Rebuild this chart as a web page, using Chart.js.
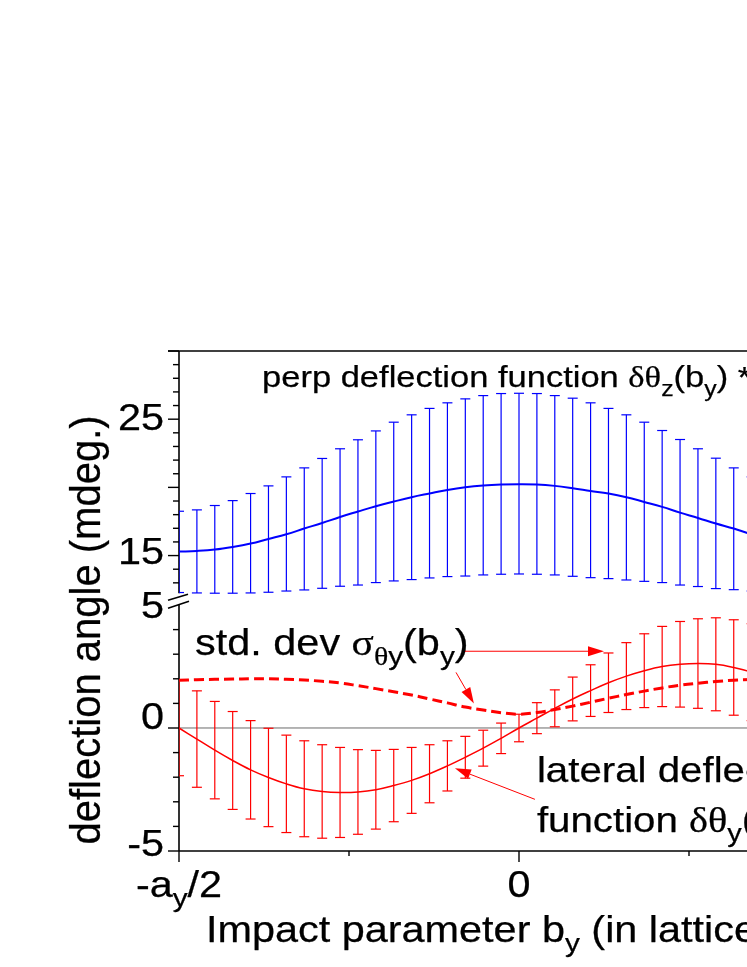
<!DOCTYPE html>
<html>
<head>
<meta charset="utf-8">
<script src="https://cdn.jsdelivr.net/npm/chart.js@4.4.1/dist/chart.umd.min.js"></script>
<style>
html,body{margin:0;padding:0;background:#fff;overflow:hidden;width:747px;height:967px;}
#wrap{position:absolute;left:0;top:0;width:900px;height:967px;}
</style>
</head>
<body>
<div id="wrap"><canvas id="c" width="900" height="967"></canvas></div>
<script>
// Impact parameter positions, in steps of a_y/38 (from -a_y/2 to +a_y/2)
const bPos = [-19,-18,-17,-16,-15,-14,-13,-12,-11,-10,-9,-8,-7,-6,-5,-4,-3,-2,-1,0,1,2,3,4,5,6,7,8,9,10,11,12,13,14,15,16,17,18,19];

// perp deflection function (mdeg) and its error-bar limits
const perpMean = [15.29,15.34,15.44,15.63,15.88,16.22,16.56,16.98,17.39,17.83,18.23,18.62,18.96,19.28,19.55,19.81,20.01,20.14,20.21,20.23,20.21,20.11,19.94,19.74,19.55,19.28,18.93,18.57,18.15,17.76,17.35,16.98,16.56,16.22,15.88,15.63,15.44,15.34,15.29];
const perpHigh = [18.25,18.35,18.67,19.03,19.55,20.11,20.77,21.43,22.12,22.83,23.49,24.14,24.78,25.32,25.79,26.20,26.49,26.73,26.88,26.90,26.88,26.73,26.54,26.20,25.79,25.32,24.78,24.17,23.51,22.83,22.14,21.43,20.77,20.11,19.55,19.03,18.67,18.35,18.25];
const perpLow  = [12.29,12.26,12.24,12.24,12.26,12.31,12.40,12.48,12.60,12.75,12.84,13.02,13.14,13.24,13.36,13.46,13.50,13.58,13.63,13.65,13.63,13.58,13.48,13.38,13.31,13.21,13.11,13.02,12.84,12.73,12.58,12.50,12.40,12.31,12.26,12.24,12.24,12.26,12.29];

// lateral deflection function (mdeg) and its std. dev
const latMean = [0,-0.45,-0.90,-1.32,-1.70,-2.01,-2.27,-2.47,-2.58,-2.62,-2.60,-2.51,-2.34,-2.13,-1.86,-1.54,-1.19,-0.82,-0.42,0,0.40,0.80,1.18,1.52,1.84,2.11,2.33,2.50,2.59,2.62,2.59,2.46,2.27,2.01,1.70,1.32,0.90,0.45,0];
const sigmaY  = [1.94,1.96,1.98,1.99,2.00,2.00,1.98,1.95,1.90,1.83,1.72,1.60,1.47,1.34,1.18,1.02,0.85,0.73,0.62,0.56,0.63,0.75,0.89,1.05,1.21,1.36,1.50,1.63,1.74,1.82,1.89,1.94,1.97,1.99,2.00,2.00,1.99,1.97,1.94];

// ticks and tick labels
const xTickVals = [-19,-9.5,0,9.5,19];
const xTickText = {"-19":[["-a"],["y","s"],["/2"]], "0":[["0"]], "19":[["a"],["y","s"],["/2"]]};
const yTopTicks = [13,14,15,16,17,18,19,20,21,22,23,24,25,26,27,28,29,30];
const yTopLabels = [15,25];
const yBotTicks = [-5,-4,-3,-2,-1,0,1,2,3,4];
const yBotLabels = [-5,0,5];

// styling: small vertical nudges of the y tick labels (px), as placed in the original
const yLabelNudge = {"25":-2, "15":-4, "5":0, "0":-12, "-5":-8};

// text annotations (data coordinates)
const notes = [
  {axis:"yTop", x:-14.36, y:27.35, size:30, segs:[["perp deflection function "],["δθ","g"],["z","s"],["(b"],["y","s"],[") *"]]},
  {axis:"yBot", x:-18.1, y:2.96, size:36, segs:[["std. dev "],["σ","g"],["θ","gs"],["y","s"],["(b"],["y","s"],[")"]]},
  {axis:"yBot", x:1.0, y:-2.20, size:35, segs:[["lateral deflection"]]},
  {axis:"yBot", x:1.0, y:-4.24, size:35, segs:[["function "],["δθ","g"],["y","s"],["(b"],["y","s"],[")"]]}
];
const arrows = [
  {from:[-3.02,3.12], to:[4.75,3.12]},
  {from:[-3.52,2.26], to:[-2.52,1.0]},
  {from:[0.89,-2.90], to:[-3.58,-1.64]}
];

const SANS = '"Liberation Sans", Arial, Helvetica, sans-serif';
const SERIF = '"Liberation Serif", "Times New Roman", serif';
const SX = 1.15;
const TEXT_STROKE = 0.25;

function richText(ctx, segs, x, y, size, align, sx) {
  ctx.save();
  const parts = segs.map(([t, m]) => {
    const sub = !!m && m.indexOf("s") >= 0;
    const gr = !!m && m.indexOf("g") >= 0;
    const fs = sub ? size * 0.72 : size;
    const font = fs + "px " + (gr ? SERIF : SANS);
    ctx.font = font;
    return {t, font, w: ctx.measureText(t).width, dy: sub ? size * 0.28 : 0};
  });
  const total = parts.reduce((a, p) => a + p.w, 0);
  let cx = align === "center" ? -total / 2 : (align === "right" ? -total : 0);
  ctx.translate(x, y);
  ctx.scale(sx, 1);
  ctx.textAlign = "left";
  ctx.textBaseline = "alphabetic";
  ctx.fillStyle = "#000";
  ctx.strokeStyle = "#000";
  ctx.lineWidth = TEXT_STROKE;
  ctx.lineJoin = "round";
  for (const p of parts) { ctx.font = p.font; ctx.fillText(p.t, cx, p.dy); ctx.strokeText(p.t, cx, p.dy); cx += p.w; }
  ctx.restore();
}

function line(ctx, x1, y1, x2, y2) { ctx.beginPath(); ctx.moveTo(x1, y1); ctx.lineTo(x2, y2); ctx.stroke(); }

const decor = {
  id: "decor",
  beforeDatasetsDraw(chart) {
    const ctx = chart.ctx, xs = chart.scales.x, yt = chart.scales.yTop, yb = chart.scales.yBot;
    const L = xs.left, R = xs.right;
    ctx.save();
    // zero line
    ctx.strokeStyle = "#6a6a6a"; ctx.lineWidth = 1;
    line(ctx, L, yb.getPixelForValue(0), R, yb.getPixelForValue(0));
    // frame
    ctx.strokeStyle = "#000"; ctx.lineWidth = 1.6; ctx.lineCap = "butt";
    line(ctx, L - 11, yt.top, R, yt.top);            // top border (with tick at 30)
    line(ctx, L, yt.top, L, yt.bottom - 4);          // left axis, upper panel
    const y5 = yb.getPixelForValue(5);
    line(ctx, L, y5, L, yb.bottom);                  // left axis, lower panel
    line(ctx, L, yb.bottom, R, yb.bottom);           // x axis
    line(ctx, R, yt.top, R, yt.bottom - 4);
    line(ctx, R, y5, R, yb.bottom);
    // y ticks
    ctx.lineWidth = 1.4;
    for (const v of yTopTicks) { const p = yt.getPixelForValue(v); line(ctx, L - (v % 5 === 0 ? 11 : 6), p, L, p); }
    for (const v of yBotTicks) { const p = yb.getPixelForValue(v); line(ctx, L - (v % 5 === 0 ? 11 : 6), p, L, p); }
    // x ticks
    for (const v of xTickVals) { const p = xs.getPixelForValue(v); const major = (v % 19 === 0 || v === 0); line(ctx, p, yb.bottom, p, yb.bottom + (major ? 11 : 5)); }
    // axis-break marks
    ctx.lineWidth = 1.6;
    const yb0 = yt.bottom;
    line(ctx, L - 11, yb0 + 3, L + 9, yb0 - 3);
    line(ctx, L - 11, yb0 + 11, L + 10, yb0 + 4);
    // error bars
    ctx.save();
    ctx.beginPath(); ctx.rect(L, chart.chartArea.top, R - L, chart.chartArea.bottom - chart.chartArea.top); ctx.clip();
    ctx.lineWidth = 1.2;
    const cap = 5;
    ctx.strokeStyle = "#0000ff";
    bPos.forEach((b, i) => {
      const px = xs.getPixelForValue(b), hi = yt.getPixelForValue(perpHigh[i]), lo = yt.getPixelForValue(perpLow[i]);
      line(ctx, px, hi, px, lo); line(ctx, px - cap, hi, px + cap, hi); line(ctx, px - cap, lo, px + cap, lo);
    });
    ctx.strokeStyle = "#ff0000";
    bPos.forEach((b, i) => {
      const px = xs.getPixelForValue(b), hi = yb.getPixelForValue(latMean[i] + sigmaY[i]), lo = yb.getPixelForValue(latMean[i] - sigmaY[i]);
      line(ctx, px, hi, px, lo); line(ctx, px - cap, hi, px + cap, hi); line(ctx, px - cap, lo, px + cap, lo);
    });
    ctx.restore();
    ctx.restore();
  },
  afterDatasetsDraw(chart) {
    const ctx = chart.ctx, xs = chart.scales.x, yt = chart.scales.yTop, yb = chart.scales.yBot;
    const L = xs.left;
    const half = 36 * 0.716 / 2;
    ctx.save();
    // y tick labels
    for (const v of yTopLabels) richText(ctx, [[String(v)]], L - 15, yt.getPixelForValue(v) + half + (yLabelNudge[String(v)] || 0), 36, "right", SX);
    for (const v of yBotLabels) richText(ctx, [[String(v)]], L - 15, yb.getPixelForValue(v) + half + (yLabelNudge[String(v)] || 0), 36, "right", SX);
    // x tick labels
    for (const v of xTickVals) { const t = xTickText[String(v)]; if (t) richText(ctx, t, xs.getPixelForValue(v), yb.bottom + 46, 36, "center", SX); }
    // axis titles
    richText(ctx, [["Impact parameter b"],["y","s"],[" (in lattice units)"]], L + 27, yb.bottom + 91, 36, "left", SX);
    ctx.save();
    ctx.translate(100, (yt.top + yb.bottom) / 2 + 29);
    ctx.rotate(-Math.PI / 2);
    ctx.scale(1, 1.05);
    ctx.font = "40px " + SANS; ctx.fillStyle = "#000"; ctx.strokeStyle = "#000"; ctx.lineWidth = TEXT_STROKE;
    ctx.textAlign = "center"; ctx.textBaseline = "alphabetic";
    ctx.fillText("deflection angle (mdeg.)", 0, 0);
    ctx.strokeText("deflection angle (mdeg.)", 0, 0);
    ctx.restore();
    // annotations
    for (const n of notes) {
      const ys = chart.scales[n.axis];
      richText(ctx, n.segs, xs.getPixelForValue(n.x), ys.getPixelForValue(n.y), n.size, "left", SX);
    }
    // arrows
    ctx.strokeStyle = "#ff0000"; ctx.fillStyle = "#ff0000"; ctx.lineWidth = 1;
    for (const a of arrows) {
      const x1 = xs.getPixelForValue(a.from[0]), y1 = yb.getPixelForValue(a.from[1]);
      const x2 = xs.getPixelForValue(a.to[0]), y2 = yb.getPixelForValue(a.to[1]);
      const ang = Math.atan2(y2 - y1, x2 - x1), hl = 16, hw = 5;
      const bx = x2 - hl * Math.cos(ang), by = y2 - hl * Math.sin(ang);
      line(ctx, x1, y1, bx, by);
      ctx.beginPath();
      ctx.moveTo(x2, y2);
      ctx.lineTo(bx + hw * Math.sin(ang), by - hw * Math.cos(ang));
      ctx.lineTo(bx - hw * Math.sin(ang), by + hw * Math.cos(ang));
      ctx.closePath(); ctx.fill();
    }
    ctx.restore();
  }
};

const hidden = {ticks:{display:false}, grid:{display:false}, border:{display:false}};

new Chart(document.getElementById("c"), {
  type: "line",
  data: {
    datasets: [
      {label:"perp", yAxisID:"yTop", data: bPos.map((b, i) => ({x:b, y:perpMean[i]})), borderColor:"#0000ff", borderWidth:2, pointRadius:0, tension:0.4, fill:false},
      {label:"sigma", yAxisID:"yBot", data: bPos.map((b, i) => ({x:b, y:sigmaY[i]})), borderColor:"#ff0000", borderWidth:3, borderDash:[10,5], pointRadius:0, tension:0.4, fill:false},
      {label:"lateral", yAxisID:"yBot", data: bPos.map((b, i) => ({x:b, y:latMean[i]})), borderColor:"#ff0000", borderWidth:1.5, pointRadius:0, tension:0.4, fill:false}
    ]
  },
  options: {
    responsive: false,
    animation: false,
    layout: {padding: {left:179, top:351, right:41, bottom:116}},
    plugins: {legend:{display:false}, tooltip:{enabled:false}},
    scales: {
      x: Object.assign({type:"linear", min:-19, max:19, afterFit: s => { s.height = 0; },
          afterBuildTicks: s => { s.ticks = xTickVals.map(v => ({value:v})); }}, hidden),
      yBot: Object.assign({type:"linear", position:"left", stack:"y", stackWeight:253.7, min:-5, max:5.313,
          afterFit: s => { s.width = 0; }, afterBuildTicks: s => { s.ticks = yBotTicks.map(v => ({value:v})); }}, hidden),
      yTop: Object.assign({type:"linear", position:"left", stack:"y", stackWeight:246.3, min:11.94, max:30,
          afterFit: s => { s.width = 0; }, afterBuildTicks: s => { s.ticks = yTopTicks.map(v => ({value:v})); }}, hidden)
    }
  },
  plugins: [decor]
});
</script>
</body>
</html>
